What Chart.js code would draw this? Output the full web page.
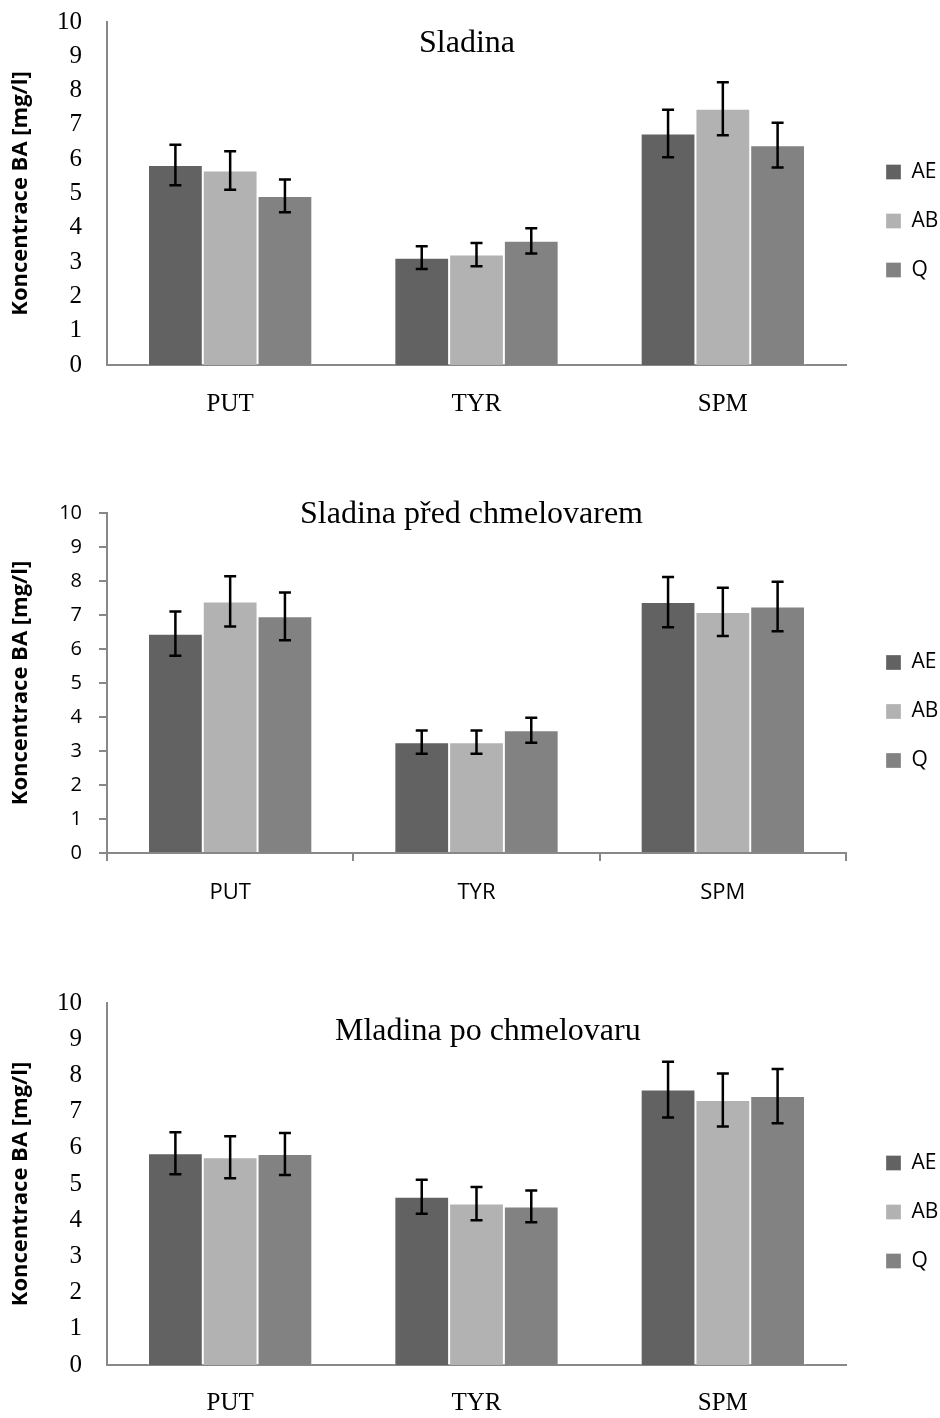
<!DOCTYPE html>
<html>
<head>
<meta charset="utf-8">
<script src="https://cdn.jsdelivr.net/npm/chart.js@4"></script>
<style>
  html, body { margin: 0; padding: 0; background: #fff; overflow: hidden; }
  canvas { position: absolute; left: 0; }
</style>
</head>
<body>
<canvas id="sladina" width="940" height="438" style="top:-18px"></canvas>
<canvas id="predChmel" width="940" height="460" style="top:450px"></canvas>
<canvas id="poChmel" width="940" height="461" style="top:960px"></canvas>
<script>
// amines on the x axis, the three yeast strains as series
const categories = ['PUT', 'TYR', 'SPM'];
const seriesNames = ['AE', 'AB', 'Q'];
const seriesColors = ['#626262', '#b2b2b2', '#828282'];
const yMin = 0;
const yMax = 10;
const yStep = 1;

// Sladina
const sladinaAE = [5.83, 3.13, 6.75];
const sladinaAB = [5.67, 3.22, 7.47];
const sladinaQ = [4.93, 3.62, 6.41];
const sladinaAEerr = [0.59, 0.33, 0.69];
const sladinaABerr = [0.56, 0.34, 0.77];
const sladinaQerr = [0.48, 0.37, 0.65];

// Sladina před chmelovarem
const predAE = [6.45, 3.26, 7.38];
const predAB = [7.40, 3.26, 7.09];
const predQ = [6.96, 3.61, 7.25];
const predAEerr = [0.65, 0.34, 0.74];
const predABerr = [0.74, 0.34, 0.71];
const predQerr = [0.70, 0.37, 0.73];

// Mladina po chmelovaru
const poAE = [5.85, 4.65, 7.61];
const poAB = [5.74, 4.46, 7.32];
const poQ = [5.83, 4.38, 7.43];
const poAEerr = [0.58, 0.47, 0.77];
const poABerr = [0.58, 0.46, 0.73];
const poQerr = [0.58, 0.44, 0.75];

const SERIF = '"Liberation Serif", "Times New Roman", serif';
const SANS = '"Open Sans", "Liberation Sans", sans-serif';
const AXIS = '#888888';

// +/- error whiskers on top of every bar
const errorBars = {
  id: 'errorBars',
  afterDatasetsDraw(chart) {
    const ctx = chart.ctx;
    const y = chart.scales.y;
    ctx.save();
    ctx.strokeStyle = '#000';
    ctx.lineWidth = 2.5;
    chart.data.datasets.forEach((ds, di) => {
      chart.getDatasetMeta(di).data.forEach((bar, i) => {
        const top = y.getPixelForValue(ds.data[i] + ds.errors[i]);
        const bot = y.getPixelForValue(ds.data[i] - ds.errors[i]);
        ctx.beginPath();
        ctx.moveTo(bar.x, top); ctx.lineTo(bar.x, bot);
        ctx.moveTo(bar.x - 6, top); ctx.lineTo(bar.x + 6, top);
        ctx.moveTo(bar.x - 6, bot); ctx.lineTo(bar.x + 6, bot);
        ctx.stroke();
      });
    });
    ctx.restore();
  }
};

// the heading sits inside the plot, not above it
const innerTitle = {
  id: 'innerTitle',
  afterDraw(chart, args, opts) {
    const ctx = chart.ctx;
    ctx.save();
    ctx.font = '32px ' + SERIF;
    ctx.fillStyle = '#000';
    ctx.textBaseline = 'alphabetic';
    ctx.fillText(opts.text, opts.x, opts.y);
    ctx.restore();
  }
};

function makeChart(id, title, values, errors, o) {
  const tickFont = o.serif ? { family: SERIF, size: 25 } : { family: SANS, size: 20 };
  const catFont = o.serif ? { family: SERIF, size: 25 } : { family: SANS, size: 22 };
  const datasets = seriesNames.map((name, i) => ({
    label: name,
    data: values[i],
    errors: errors[i],
    backgroundColor: seriesColors[i],
    borderColor: 'rgba(255,255,255,0.3)',
    borderWidth: 1,
    categoryPercentage: 0.667,
    barPercentage: 1.0
  }));
  return new Chart(document.getElementById(id), {
    type: 'bar',
    data: { labels: categories, datasets: datasets },
    options: {
      responsive: false,
      animation: false,
      devicePixelRatio: 1,
      layout: { padding: { top: o.padTop, right: 0, bottom: 0, left: 0 } },
      scales: {
        x: {
          ticks: { color: '#000', font: catFont, padding: o.xPad },
          grid: { display: o.marks, drawOnChartArea: false, drawTicks: o.marks, tickLength: 8, offset: true, color: AXIS, lineWidth: 2 },
          border: { display: true, color: AXIS, width: 2 },
          afterFit(scale) { scale.height = o.xHeight; }
        },
        y: {
          min: yMin,
          max: yMax,
          ticks: { stepSize: yStep, color: '#000', font: tickFont, padding: o.marks ? 17 : 25 },
          grid: { display: o.marks, drawOnChartArea: false, drawTicks: o.marks, tickLength: 8, color: AXIS, lineWidth: 2 },
          border: { display: true, color: AXIS, width: 2 },
          title: {
            display: true,
            text: 'Koncentrace BA [mg/l]',
            color: '#000',
            font: { family: SANS, size: 22, weight: 'bold' },
            padding: { top: 8, bottom: 0 }
          },
          afterFit(scale) { scale.width = 107; }
        },
        // empty strip between the plot and the legend
        gap: {
          type: 'linear',
          position: 'right',
          display: true,
          grid: { display: false },
          border: { display: false },
          ticks: { display: false },
          afterFit(scale) { scale.width = 12; }
        }
      },
      plugins: {
        tooltip: { enabled: false },
        legend: {
          position: 'right',
          maxWidth: 82,
          labels: { boxWidth: 15, boxHeight: 15, padding: 28, color: '#000', font: { family: SANS, size: 21 } }
        },
        innerTitle: title
      }
    },
    plugins: [errorBars, innerTitle]
  });
}

makeChart('sladina', { text: 'Sladina', x: 419, y: 70 },
  [sladinaAE, sladinaAB, sladinaQ], [sladinaAEerr, sladinaABerr, sladinaQerr],
  { serif: true, marks: false, padTop: 40, xHeight: 55, xPad: 24 });

makeChart('predChmel', { text: 'Sladina před chmelovarem', x: 300, y: 73 },
  [predAE, predAB, predQ], [predAEerr, predABerr, predQerr],
  { serif: false, marks: true, padTop: 63, xHeight: 57, xPad: 19 });

makeChart('poChmel', { text: 'Mladina po chmelovaru', x: 335, y: 80 },
  [poAE, poAB, poQ], [poAEerr, poABerr, poQerr],
  { serif: true, marks: false, padTop: 43, xHeight: 56, xPad: 23 });
</script>
</body>
</html>
